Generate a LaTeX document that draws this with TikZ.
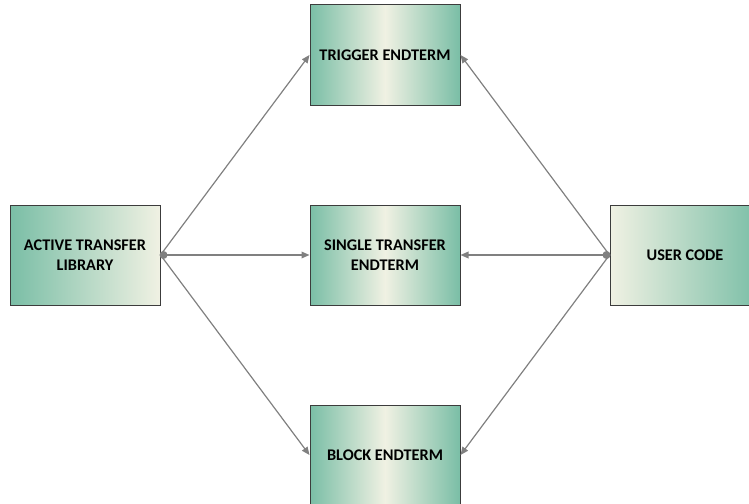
\documentclass[tikz,border=0pt]{standalone}
\usepackage{fontspec}
\setmainfont{Carlito}
\usetikzlibrary{arrows.meta}

% colours of the boxes and links
\definecolor{boxdark}{RGB}{122,190,166}
\definecolor{boxlight}{RGB}{240,241,227}
\definecolor{linkgray}{RGB}{128,128,128}
\definecolor{edgegray}{RGB}{60,60,60}

\tikzset{
  unitbox/.style={draw=edgegray, line width=0.75pt, minimum width=112.5pt,
    minimum height=75pt, align=center, inner sep=0pt,
    font=\fontsize{12.2}{15}\selectfont\bfseries},
  srcbox/.style={unitbox, left color=boxdark, right color=boxlight},
  usrbox/.style={unitbox, left color=boxlight, right color=boxdark},
  termbox/.style={unitbox, left color=boxdark, right color=boxdark, middle color=boxlight},
  linkarrow/.style={draw=linkgray, line width=0.9pt,
    -{Triangle[length=6pt,width=5pt]}, color=linkgray},
}

\begin{document}
\begin{tikzpicture}[x=0.75pt, y=-0.75pt]

    % Fix the frame of the picture
    \useasboundingbox (0,0) rectangle (749,503);
    \clip (0,0) rectangle (749,503);

    % Library on the left, user code on the right
    \node[srcbox] (atl) at (85,255) {ACTIVE TRANSFER\\LIBRARY};
    \node[usrbox] (user) at (685,255) {USER CODE};

    % The three endterms in the middle column
    \node[termbox] (trig) at (385,55) {TRIGGER ENDTERM};
    \node[termbox] (single) at (385,255) {SINGLE TRANSFER\\ENDTERM};
    \node[termbox] (blk) at (385,455) {BLOCK ENDTERM};

    % Links from the library
    \draw[linkarrow] (atl.east) -- (trig.west);
    \draw[linkarrow] (atl.east) -- (single.west);
    \draw[linkarrow] (atl.east) -- (blk.west);

    % Links from the user code
    \draw[linkarrow] (user.west) -- (trig.east);
    \draw[linkarrow] (user.west) -- (single.east);
    \draw[linkarrow] (user.west) -- (blk.east);

    % Joints where the links meet
    \fill[linkgray] (atl.east) ++(3,0) circle (3pt);
    \fill[linkgray] (user.west) ++(-3,0) circle (3pt);

\end{tikzpicture}
\end{document}
